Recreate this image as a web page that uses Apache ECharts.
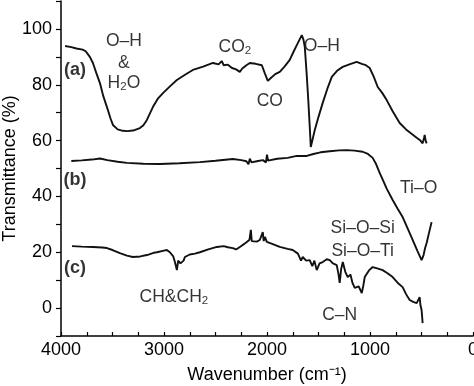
<!DOCTYPE html>
<html lang="en">

<head>
    <meta charset="UTF-8">
    <title>FTIR</title>
    <style>
        html,
        body {
            margin: 0;
            padding: 0;
            width: 100%;
            height: 100%;
            background: #fff;
        }
    </style>
</head>

<body>
    <div id="main" style="width: 474px;height:386px;"></div>
    <script src="https://cdn.jsdelivr.net/npm/echarts@6/dist/echarts.min.js"></script>
    <script type="text/javascript">
        // spectra: [wavenumber, transmittance]
        var curveA = [[3960, 93.9], [3900, 93.5], [3850, 93], [3790, 92.6], [3760, 92], [3720, 90], [3690, 87.8], [3655, 84], [3622, 80.6], [3590, 76], [3554, 72], [3520, 68], [3496, 65.6], [3450, 64], [3400, 63.5], [3360, 63.4], [3300, 63.6], [3234, 64.5], [3200, 65.5], [3166, 67.4], [3140, 69.5], [3108, 72], [3060, 75], [3010, 77], [2940, 79.5], [2875, 81.7], [2800, 83.5], [2720, 85.3], [2620, 86.5], [2525, 87.8], [2470, 87.3], [2440, 88.5], [2420, 87], [2380, 87.2], [2340, 86], [2300, 85.5], [2264, 84.6], [2240, 85.8], [2200, 87], [2167, 87.8], [2110, 87.5], [2050, 87], [2020, 84], [1992, 81.4], [1960, 82.5], [1920, 83.8], [1876, 84.6], [1830, 86.5], [1779, 88.9], [1740, 92], [1700, 95], [1662, 97.8], [1645, 96], [1633, 93.5], [1615, 84], [1600, 75], [1585, 65], [1575, 57.7], [1560, 60], [1536, 63.8], [1500, 68.5], [1459, 73.5], [1410, 79], [1371, 82.8], [1320, 85], [1265, 86.4], [1200, 87.3], [1129, 88.2], [1080, 87.5], [1040, 87], [1003, 86], [965, 83], [925, 79.2], [880, 77], [838, 74.5], [780, 70.5], [712, 66.3], [650, 64], [600, 62.5], [547, 61], [510, 60], [489, 59], [475, 61], [469, 62], [460, 60], [450, 59]];
        var curveB = [[3900, 52.7], [3800, 52.9], [3700, 53.2], [3622, 53.6], [3550, 53], [3450, 52.4], [3360, 52], [3200, 51.7], [3040, 51.6], [2850, 51.9], [2652, 52.3], [2500, 52.8], [2332, 53.4], [2250, 53], [2200, 52.6], [2180, 51.5], [2167, 53.5], [2150, 52.2], [2100, 52.6], [2040, 53], [2010, 52.2], [2000, 55], [1990, 52.8], [1900, 53.5], [1800, 53.8], [1711, 54.5], [1614, 54.5], [1550, 55.2], [1480, 55.8], [1391, 56.2], [1300, 56.5], [1226, 56.6], [1150, 56.4], [1071, 56], [1020, 55.2], [974, 53.8], [940, 51.5], [906, 48.4], [870, 45.5], [838, 42.8], [780, 38.7], [730, 35.5], [683, 32.6], [640, 29], [586, 24.4], [540, 20.5], [499, 17.2], [480, 19], [465, 21.5], [450, 23.3], [430, 26.5], [402, 30.8]];
        var curveC = [[3893, 22.2], [3800, 22], [3690, 21.9], [3600, 21.7], [3554, 21.5], [3500, 20.8], [3428, 19.7], [3360, 18.8], [3302, 18.3], [3230, 18.5], [3166, 19], [3100, 19.8], [3069, 20], [3000, 20.6], [2972, 20.8], [2943, 20], [2910, 18.5], [2894, 16.5], [2875, 13.6], [2862, 17], [2855, 16.5], [2840, 16], [2826, 15.4], [2810, 17], [2797, 18.3], [2750, 19.2], [2700, 19.5], [2652, 20], [2570, 21], [2487, 21.9], [2420, 22.2], [2380, 21.8], [2332, 21.5], [2300, 21], [2260, 22], [2220, 23], [2196, 23.7], [2170, 24.5], [2157, 28], [2148, 24], [2138, 23.3], [2100, 23.8], [2070, 24.4], [2052, 25], [2041, 27.2], [2032, 24], [2020, 25.5], [2002, 23.7], [1950, 23], [1876, 21.9], [1800, 21.2], [1750, 20.8], [1700, 19.5], [1670, 17], [1653, 18.3], [1620, 17], [1585, 17.2], [1560, 15], [1540, 17], [1517, 13.6], [1490, 16], [1459, 16.5], [1420, 17.5], [1391, 17.2], [1360, 16], [1323, 15.4], [1305, 12], [1294, 9], [1280, 14], [1264, 16.5], [1240, 13], [1216, 11.1], [1190, 12], [1170, 9], [1148, 7.2], [1110, 7.8], [1080, 5.4], [1065, 8], [1051, 11.1], [1010, 13.5], [974, 14.7], [930, 14.2], [877, 13.6], [830, 12.5], [780, 11.1], [730, 9], [683, 7.5], [650, 5], [615, 2.9], [580, 2.2], [547, 1.8], [530, 2], [518, 3.9], [510, 1], [499, -0.7], [489, -5.4]];

        // annotations: [wavenumber, transmittance, rich text]
        var notes = [
            [3864, 85.3, '{b|(a)}'],
            [3864, 45.9, '{b|(b)}'],
            [3864, 14.3, '{b|(c)}'],
            [3389, 95.7, '{n|O–H}'],
            [3389, 87.8, '{n|&}'],
            [3389, 80.6, '{n|H}{s|2}{n|O}'],
            [2312, 93.5, '{n|CO}{s|2}'],
            [1973, 74.2, '{n|CO}'],
            [1468, 93.9, '{n|O–H}'],
            [527, 43, '{n|Ti–O}'],
            [1071, 28.7, '{n|Si–O–Si}'],
            [1071, 20.4, '{n|Si–O–Ti}'],
            [2904, 3.9, '{n|CH&CH}{s|2}'],
            [1294, -2.5, '{n|C–N}']
        ];

        var font = "'Liberation Sans', Arial, sans-serif";
        var black = '#000';

        var myChart = echarts.init(document.getElementById('main'));

        function line(data) {
            return {
                type: 'line',
                data: data,
                showSymbol: false,
                symbol: 'none',
                lineStyle: { color: '#111', width: 1.9 },
                silent: true
            };
        }

        var option = {
            animation: false,
            grid: { left: 61, right: 1, top: 1, bottom: 50, containLabel: false, outerBoundsMode: 'none' },
            xAxis: {
                type: 'value',
                inverse: true,
                min: 0,
                max: 4000,
                interval: 250,
                name: 'Wavenumber (cm⁻¹)',
                nameLocation: 'middle',
                nameGap: 30,
                nameMoveOverlap: false,
                nameTextStyle: { fontFamily: font, fontSize: 18, color: black },
                axisLine: { onZero: false, lineStyle: { color: black, width: 1.5 } },
                axisTick: { inside: true, length: 4, lineStyle: { color: black, width: 1.2 } },
                axisLabel: {
                    fontFamily: font, fontSize: 18, color: black, margin: 5,
                    showMinLabel: true, showMaxLabel: true,
                    formatter: function (v) { return v % 1000 === 0 ? String(v) : ''; }
                },
                splitLine: { show: false }
            },
            yAxis: {
                type: 'value',
                min: -10,
                max: 110,
                interval: 10,
                name: 'Transmittance (%)',
                nameLocation: 'middle',
                nameGap: 42,
                nameMoveOverlap: false,
                nameTextStyle: { fontFamily: font, fontSize: 18, color: black },
                axisLine: { show: true, onZero: false, lineStyle: { color: black, width: 1.5 } },
                axisTick: { show: true, length: 5, lineStyle: { color: black, width: 1.2 } },
                axisLabel: {
                    fontFamily: font, fontSize: 18, color: black, margin: 9,
                    formatter: function (v) { return (v % 20 === 0 && v <= 100) ? String(v) : ''; }
                },
                splitLine: { show: false }
            },
            series: [
                line(curveA),
                line(curveB),
                line(curveC),
                {
                    type: 'scatter',
                    symbolSize: 0,
                    silent: true,
                    data: notes.map(function (n) {
                        return {
                            value: [n[0], n[1]],
                            label: {
                                show: true,
                                position: 'inside',
                                formatter: n[2],
                                rich: {
                                    n: { fontFamily: font, fontSize: 17.5, color: black, lineHeight: 20 },
                                    b: { fontFamily: font, fontSize: 18, fontWeight: 'bold', color: black, lineHeight: 20 },
                                    s: { fontFamily: font, fontSize: 11.5, color: black, lineHeight: 20, verticalAlign: 'bottom' }
                                }
                            }
                        };
                    })
                }
            ]
        };
        myChart.setOption(option);
    </script>
</body>

</html>
